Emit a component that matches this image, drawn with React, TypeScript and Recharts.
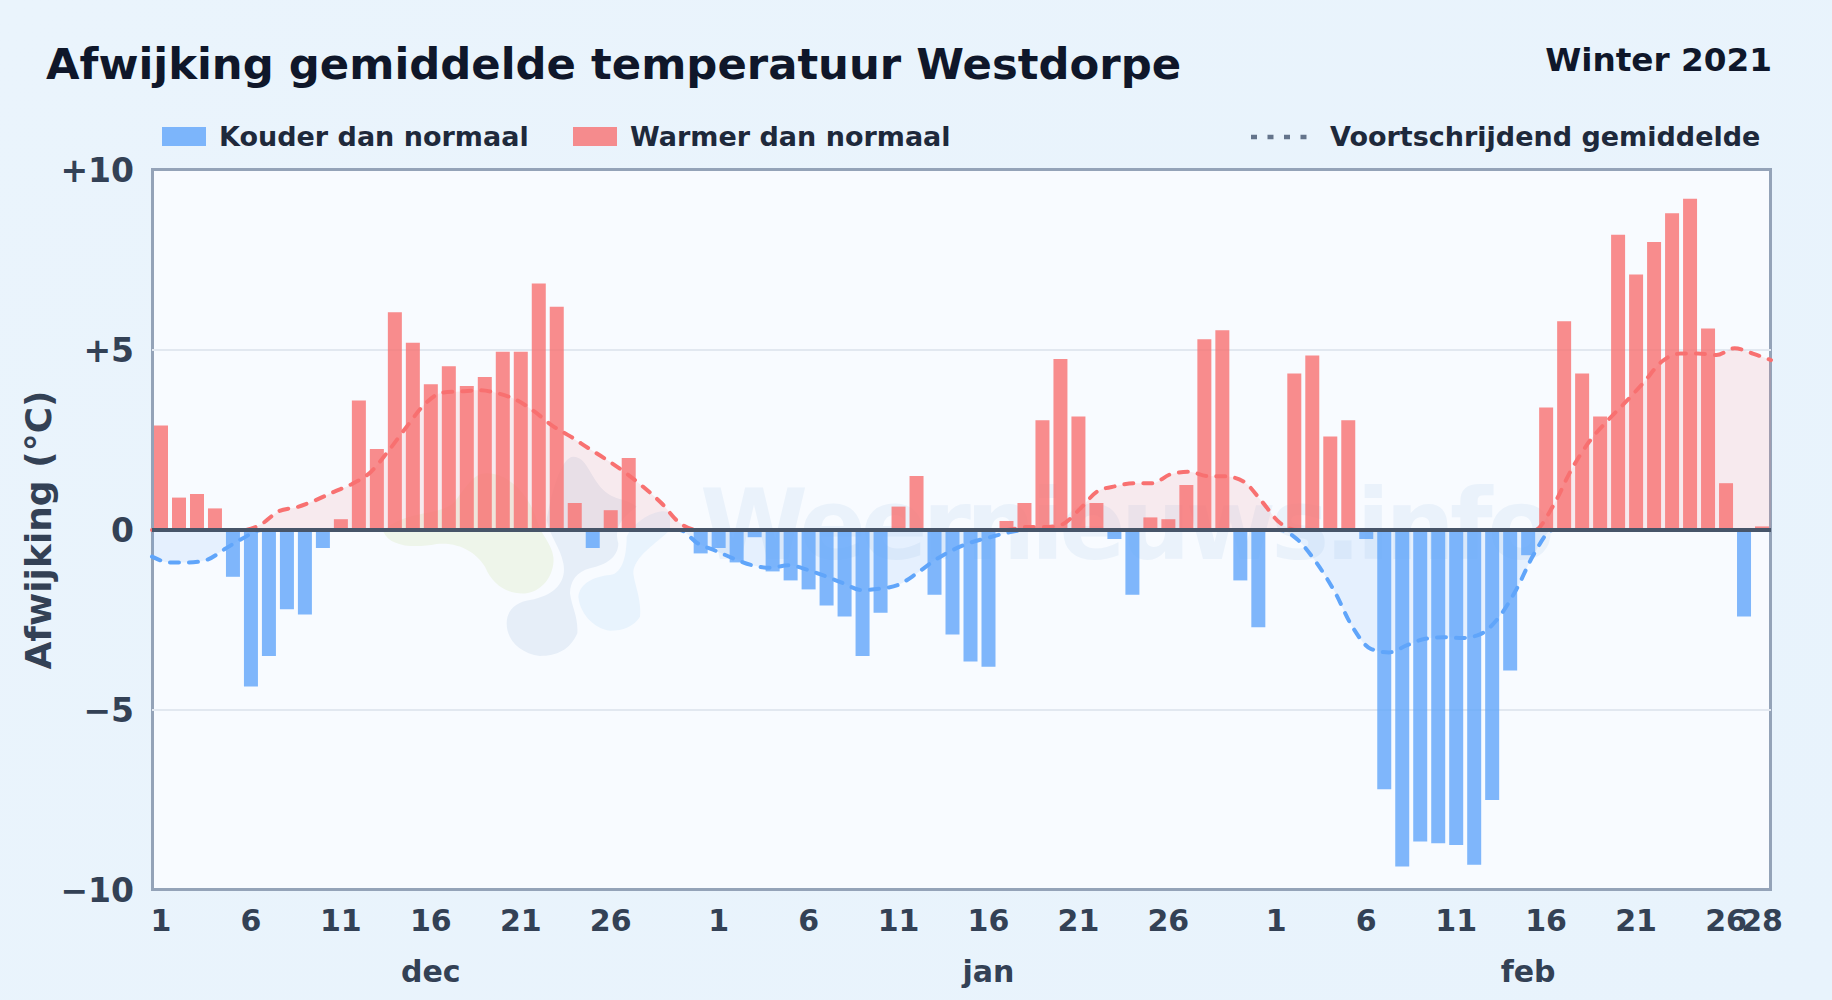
import {
  Area,
  Bar,
  CartesianGrid,
  Cell,
  ComposedChart,
  ReferenceLine,
  XAxis,
  YAxis,
} from "recharts";

const FONT = "'DejaVu Sans', sans-serif";
const BLUE = "#60a5fa";
const RED = "#f87171";

// daily deviation, dec 1 .. feb 28
const decValues = [
  2.9, 0.9, 1.0, 0.6, -1.3, -4.35, -3.5, -2.2, -2.35, -0.5, 0.3, 3.6, 2.25, 6.05, 5.2, 4.05, 4.55,
  4.0, 4.25, 4.95, 4.95, 6.85, 6.2, 0.75, -0.5, 0.55, 2.0, 0, 0.05, 0, -0.65,
];
const janValues = [
  -0.5, -0.9, -0.2, -1.15, -1.4, -1.65, -2.1, -2.4, -3.5, -2.3, 0.65, 1.5, -1.8, -2.9, -3.65, -3.8,
  0.25, 0.75, 3.05, 4.75, 3.15, 0.75, -0.25, -1.8, 0.35, 0.3, 1.25, 5.3, 5.55, -1.4, -2.7,
];
const febValues = [
  0, 4.35, 4.85, 2.6, 3.05, -0.25, -7.2, -9.35, -8.65, -8.7, -8.75, -9.3, -7.5, -3.9, -0.7, 3.4, 5.8,
  4.35, 3.15, 8.2, 7.1, 8.0, 8.8, 9.2, 5.6, 1.3, -2.4, 0.1,
];

// moving average, same days
const movingAverage = [
  -0.74, -0.9, -0.9, -0.83, -0.53, -0.23, 0.16, 0.53, 0.64, 0.83, 1.06, 1.28, 1.6, 2.2, 2.87, 3.5, 3.82,
  3.85, 3.88, 3.8, 3.62, 3.3, 2.9, 2.6, 2.27, 1.95, 1.6, 1.2, 0.75, 0.2, -0.37,
  -0.58, -0.8, -0.98, -1.05, -0.98, -1.1, -1.28, -1.48, -1.67, -1.63, -1.53, -1.22, -0.85, -0.56, -0.35, -0.21,
  -0.08, 0.08, 0.08, 0.15, 0.58, 1.08, 1.22, 1.3, 1.3, 1.55, 1.62, 1.5, 1.49, 1.35, 0.8,
  0.2, -0.28, -0.9, -1.7, -2.7, -3.3, -3.4, -3.2, -3.02, -2.98, -3.0, -2.9, -2.45, -1.65, -0.64,
  0.65, 1.65, 2.45, 3.03, 3.55, 4.1, 4.68, 4.9, 4.9, 4.86, 5.05, 4.9, 4.72,
];

const dayTicks = [
  "d1", "d6", "d11", "d16", "d21", "d26",
  "j1", "j6", "j11", "j16", "j21", "j26",
  "f1", "f6", "f11", "f16", "f21", "f26", "f28",
];
const monthTicks = ["d16", "j16", "f15"];
const monthNames: Record<string, string> = { d: "dec", j: "jan", f: "feb" };
const yTicks = [-10, -5, 0, 5, 10];
const gridValues = [-5, 5];

const months: [string, number[]][] = [
  ["d", decValues],
  ["j", janValues],
  ["f", febValues],
];
const data = months.flatMap(([m, values]) => values.map((value, i) => ({ key: `${m}${i + 1}`, value })));
data.forEach((d: any, i) => {
  d.warmAvg = Math.max(movingAverage[i], 0);
  d.coldAvg = Math.min(movingAverage[i], 0);
});

const formatY = (v: number) => (v > 0 ? `+${v}` : v < 0 ? `\u2212${Math.abs(v)}` : "0");

const Swatch = ({ color, left }: { color: string; left: number }) => (
  <div style={{ position: "absolute", left, top: 127, width: 44, height: 19, background: color, opacity: 0.8 }} />
);

const legendText = (left: number, text: string) => (
  <div
    style={{
      position: "absolute",
      left,
      top: 119,
      fontSize: 27,
      fontWeight: 700,
      color: "#1e293b",
      whiteSpace: "nowrap",
      lineHeight: "36px",
    }}
  >
    {text}
  </div>
);

export default function App() {
  return (
    <div
      style={{
        position: "fixed",
        left: 0,
        top: 0,
        width: 1832,
        height: 1000,
        overflow: "hidden",
        fontFamily: FONT,
        background: "linear-gradient(135deg, #eaf4fc, #e8f3fc)",
      }}
    >
      <div
        style={{
          position: "absolute",
          left: 46,
          top: 39,
          fontSize: 43.35,
          fontWeight: 700,
          color: "#0f172a",
          whiteSpace: "nowrap",
        }}
      >
        Afwijking gemiddelde temperatuur Westdorpe
      </div>
      <div
        style={{
          position: "absolute",
          right: 60,
          top: 41,
          fontSize: 32.7,
          fontWeight: 700,
          color: "#0f172a",
          whiteSpace: "nowrap",
        }}
      >
        Winter 2021
      </div>

      <Swatch color={BLUE} left={162} />
      {legendText(219, "Kouder dan normaal")}
      <Swatch color={RED} left={573} />
      {legendText(630, "Warmer dan normaal")}
      <svg style={{ position: "absolute", left: 1250, top: 130, width: 64, height: 14 }}>
        <line x1={1} x2={62} y1={7} y2={7} stroke="#64748b" strokeWidth={4.5} strokeDasharray="6 10.5" />
      </svg>
      {legendText(1330, "Voortschrijdend gemiddelde")}

      {/* plot background, watermark and logo sit under the chart */}
      <div
        style={{
          position: "absolute",
          left: 151,
          top: 168,
          width: 1621,
          height: 723,
          boxSizing: "border-box",
          border: "3px solid #94a3b8",
          background: "#f8fbff",
        }}
      />
      <svg style={{ position: "absolute", left: 370, top: 420, width: 300, height: 250 }} viewBox="0 0 900 750">
        <path
          fill="#eef5ea"
          d="M40 335 C60 380 130 385 200 372 C270 365 320 400 345 440 C370 500 420 525 470 520 C530 510 555 450 550 410 C545 370 510 340 500 300 C480 230 420 160 350 160 C310 160 290 200 250 250 C200 290 100 270 40 335Z"
        />
        <path
          fill="#e6eef8"
          d="M410 610 C410 570 440 545 480 540 C560 525 590 480 580 430 C570 380 540 350 530 300 C540 240 570 110 610 110 C650 110 660 170 700 210 C730 240 780 240 800 260 C760 290 730 320 745 370 C745 410 710 435 660 445 C620 455 600 485 600 520 C605 560 625 590 622 640 C600 690 560 708 510 708 C450 700 410 660 410 610Z"
        />
        <path
          fill="#e8f3fd"
          d="M625 530 C630 490 670 470 720 465 C760 460 770 400 770 350 C800 290 880 260 900 280 L900 330 C860 370 790 410 790 460 C795 500 815 540 810 590 C790 620 760 632 720 632 C670 625 630 580 625 530Z"
        />
      </svg>
      <div
        style={{
          position: "absolute",
          left: 700,
          top: 460,
          fontSize: 98,
          fontWeight: 700,
          letterSpacing: -5,
          lineHeight: "130px",
          color: "#eaf2fb",
          whiteSpace: "nowrap",
        }}
      >
        Weernieuws.info
      </div>

      <div style={{ position: "absolute", left: 0, top: 0 }}>
        <ComposedChart
          width={1832}
          height={1000}
          data={data}
          margin={{ top: 170, right: 61, bottom: 37, left: 0 }}
          barSize={14}
        >
          <CartesianGrid horizontal vertical={false} horizontalValues={gridValues} stroke="#e2e8f0" strokeWidth={2} />
          <XAxis
            dataKey="key"
            xAxisId="days"
            interval={0}
            ticks={dayTicks}
            tickFormatter={(k: string) => k.slice(1)}
            axisLine={false}
            tickLine={false}
            height={33}
            tickMargin={14}
            tick={{ fontSize: 30, fontWeight: 700, fill: "#334155", fontFamily: FONT }}
          />
          <XAxis
            dataKey="key"
            xAxisId="months"
            interval={0}
            ticks={monthTicks}
            tickFormatter={(k: string) => monthNames[k[0]]}
            axisLine={false}
            tickLine={false}
            height={40}
            tick={{ fontSize: 30, fontWeight: 700, fill: "#334155", fontFamily: FONT }}
          />
          <XAxis dataKey="key" xAxisId="line" scale="point" hide />
          <YAxis
            domain={[-10, 10]}
            ticks={yTicks}
            tickFormatter={formatY}
            axisLine={false}
            tickLine={false}
            width={152}
            tickMargin={12}
            tick={{ fontSize: 33, fontWeight: 700, fill: "#334155", fontFamily: FONT }}
            label={{
              value: "Afwijking (\u00b0C)",
              angle: -90,
              position: "insideLeft",
              offset: 38,
              style: { fontSize: 36, fontWeight: 700, fill: "#334155", fontFamily: FONT, textAnchor: "middle" },
            }}
          />
          <Area
            xAxisId="line"
            type="monotone"
            dataKey="warmAvg"
            stroke={RED}
            strokeWidth={4}
            strokeDasharray="9 10"
            strokeLinecap="round"
            fill={RED}
            fillOpacity={0.12}
            dot={false}
            isAnimationActive={false}
          />
          <Area
            xAxisId="line"
            type="monotone"
            dataKey="coldAvg"
            stroke={BLUE}
            strokeWidth={4}
            strokeDasharray="9 10"
            strokeLinecap="round"
            fill={BLUE}
            fillOpacity={0.12}
            dot={false}
            isAnimationActive={false}
          />
          <Bar xAxisId="days" dataKey="value" isAnimationActive={false}>
            {data.map((d) => (
              <Cell key={d.key} fill={d.value < 0 ? BLUE : RED} fillOpacity={0.8} />
            ))}
          </Bar>
          <ReferenceLine xAxisId="days" y={0} stroke="#475569" strokeWidth={4} />
        </ComposedChart>
      </div>
    </div>
  );
}
